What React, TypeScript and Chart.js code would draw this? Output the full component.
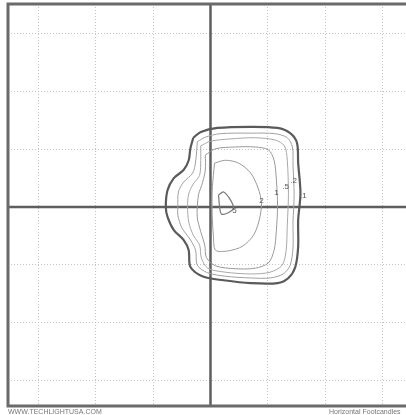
import React, { useEffect, useRef } from "react";
import { Chart, registerables } from "chart.js";

Chart.register(...registerables);

// Footcandle contour levels (outer to inner)
const levels = ["0.1", "0.2", "0.5", "1", "2", "5"];

// Grid lines (grid units; one square = 1 unit)
const gridValues = [-3, -2, -1, 1, 2, 3];

// Contour outlines in grid units
const contour01: [number, number][] = [
  [-0.30, 1.20], [-0.17, 1.30], [0.12, 1.37], [0.70, 1.39], [1.17, 1.37], [1.39, 1.28],
  [1.51, 1.11], [1.53, 0.76], [1.57, 0.24], [1.53, -0.23], [1.53, -0.69], [1.48, -1.04],
  [1.36, -1.23], [1.17, -1.32], [0.70, -1.32], [0.23, -1.27], [-0.12, -1.21], [-0.35, -1.04],
  [-0.38, -0.75], [-0.47, -0.57], [-0.64, -0.40], [-0.75, -0.17], [-0.78, 0.0], [-0.75, 0.29],
  [-0.64, 0.50], [-0.47, 0.64], [-0.38, 0.81], [-0.35, 1.02],
];
const contour02: [number, number][] = [
  [-0.23, 1.13], [-0.09, 1.21], [0.17, 1.27], [0.70, 1.28], [1.13, 1.27], [1.34, 1.20],
  [1.43, 1.04], [1.44, 0.73], [1.46, 0.21], [1.44, -0.26], [1.44, -0.71], [1.39, -1.01],
  [1.27, -1.16], [1.04, -1.23], [0.70, -1.23], [0.26, -1.20], [-0.05, -1.14], [-0.23, -1.01],
  [-0.26, -0.75], [-0.35, -0.57], [-0.50, -0.36], [-0.57, -0.14], [-0.57, 0.0], [-0.56, 0.26],
  [-0.47, 0.43], [-0.31, 0.59], [-0.26, 0.78], [-0.24, 0.99],
];
const contour05: [number, number][] = [
  [-0.17, 1.06], [0.0, 1.14], [0.35, 1.18], [0.78, 1.20], [1.13, 1.16], [1.29, 1.06],
  [1.34, 0.81], [1.36, 0.21], [1.34, -0.31], [1.32, -0.75], [1.25, -1.01], [1.04, -1.13],
  [0.70, -1.16], [0.26, -1.13], [-0.05, -1.06], [-0.16, -0.88], [-0.19, -0.66], [-0.30, -0.49],
  [-0.38, -0.26], [-0.40, 0.0], [-0.38, 0.23], [-0.30, 0.40], [-0.19, 0.55], [-0.17, 0.81],
];
const contour1: [number, number][] = [
  [-0.09, 0.90], [0.09, 1.01], [0.43, 1.04], [0.78, 1.04], [1.01, 0.99], [1.11, 0.81],
  [1.15, 0.47], [1.17, 0.03], [1.15, -0.40], [1.11, -0.75], [1.01, -0.97], [0.78, -1.06],
  [0.43, -1.07], [0.09, -1.02], [-0.07, -0.88], [-0.10, -0.66], [-0.17, -0.43], [-0.23, -0.19],
  [-0.23, 0.0], [-0.21, 0.21], [-0.14, 0.42], [-0.09, 0.64],
];
const contour2: [number, number][] = [
  [0.07, 0.76], [0.26, 0.81], [0.49, 0.76], [0.70, 0.59], [0.83, 0.33], [0.89, 0.07],
  [0.85, -0.23], [0.75, -0.49], [0.56, -0.68], [0.31, -0.76], [0.09, -0.75], [0.05, -0.49],
  [0.03, -0.14], [0.03, 0.29], [0.05, 0.55],
];
const contour5: [number, number][] = [
  [0.14, 0.21], [0.23, 0.26], [0.35, 0.12], [0.40, -0.02], [0.31, -0.10], [0.19, -0.12], [0.16, 0.0],
];

// Contour value labels
const labelTexts = [".1", ".2", ".5", "1", "2", "5"];
const labelX = [1.62, 1.45, 1.31, 1.15, 0.89, 0.42];
const labelY = [0.20, 0.46, 0.35, 0.24, 0.10, -0.07];

const xMin = -3.534, xMax = 3.412;
const yMin = -3.449, yMax = 3.518;

const contours = [contour01, contour02, contour05, contour1, contour2, contour5];
const lineColors = ["#5a5a5a", "#a0a0a0", "#a8a8a8", "#999999", "#9a9a9a", "#777777"];
const lineWidths = [2.2, 1, 1, 1, 1, 1.2];

export default function App() {
  const ref = useRef<HTMLCanvasElement>(null);

  useEffect(() => {
    if (!ref.current) return;

    const framePlugin = {
      id: "frame",
      beforeDatasetsDraw(chart: any) {
        const { ctx, chartArea, scales } = chart;
        const x0 = scales.x.getPixelForValue(0);
        const y0 = scales.y.getPixelForValue(0);
        ctx.save();
        ctx.strokeStyle = "#5e5e5e";
        ctx.lineWidth = 2.5;
        ctx.beginPath();
        ctx.moveTo(x0, chartArea.top);
        ctx.lineTo(x0, chartArea.bottom);
        ctx.moveTo(chartArea.left, y0);
        ctx.lineTo(chartArea.right, y0);
        ctx.stroke();
        ctx.strokeStyle = "#6a6a6a";
        ctx.lineWidth = 3;
        ctx.beginPath();
        ctx.moveTo(chartArea.right, chartArea.top);
        ctx.lineTo(chartArea.left, chartArea.top);
        ctx.lineTo(chartArea.left, chartArea.bottom);
        ctx.lineTo(chartArea.right, chartArea.bottom);
        ctx.stroke();
        ctx.restore();
      },
      afterDatasetsDraw(chart: any) {
        const { ctx, scales } = chart;
        ctx.save();
        ctx.font = "8px 'Liberation Sans', Arial, sans-serif";
        ctx.fillStyle = "#555";
        ctx.textAlign = "center";
        ctx.textBaseline = "middle";
        labelTexts.forEach((t, i) => {
          ctx.fillText(t, scales.x.getPixelForValue(labelX[i]), scales.y.getPixelForValue(labelY[i]));
        });
        ctx.restore();
      },
    };

    const setTicks = (scale: any) => {
      scale.ticks = gridValues.map((v) => ({ value: v }));
    };

    const chart = new Chart(ref.current, {
      type: "scatter",
      data: {
        datasets: contours.map((pts, i) => ({
          label: levels[i],
          data: [...pts, pts[0]].map(([x, y]) => ({ x, y })),
          showLine: true,
          borderColor: lineColors[i],
          borderWidth: lineWidths[i],
          pointRadius: 0,
          tension: 0.3,
          fill: false,
        })),
      },
      options: {
        responsive: false,
        animation: false,
        layout: { padding: { left: 8, top: 4, right: 0, bottom: 9 } },
        plugins: { legend: { display: false }, tooltip: { enabled: false } },
        scales: {
          x: {
            type: "linear",
            min: xMin,
            max: xMax,
            afterBuildTicks: setTicks,
            ticks: { display: false },
            grid: { color: "#c4c4c4", lineWidth: 1, drawTicks: false },
            border: { display: false, dash: [1, 2] },
          },
          y: {
            type: "linear",
            min: yMin,
            max: yMax,
            afterBuildTicks: setTicks,
            ticks: { display: false },
            grid: { color: "#c4c4c4", lineWidth: 1, drawTicks: false },
            border: { display: false, dash: [1, 2] },
          },
        },
      },
      plugins: [framePlugin],
    });

    return () => chart.destroy();
  }, []);

  return (
    <div style={{ position: "absolute", left: 0, top: 0, width: 406, height: 415, background: "#fff" }}>
      <canvas ref={ref} width={406} height={415} style={{ display: "block" }} />
      <div
        style={{
          position: "absolute",
          left: 8,
          top: 408,
          fontFamily: "'Liberation Sans', Arial, sans-serif",
          fontSize: 7,
          lineHeight: "7px",
          color: "#777",
          whiteSpace: "nowrap",
        }}
      >
        WWW.TECHLIGHTUSA.COM
      </div>
      <div
        style={{
          position: "absolute",
          left: 329,
          top: 408,
          fontFamily: "'Liberation Sans', Arial, sans-serif",
          fontSize: 7,
          lineHeight: "7px",
          color: "#777",
          whiteSpace: "nowrap",
        }}
      >
        Horizontal Footcandles
      </div>
    </div>
  );
}
